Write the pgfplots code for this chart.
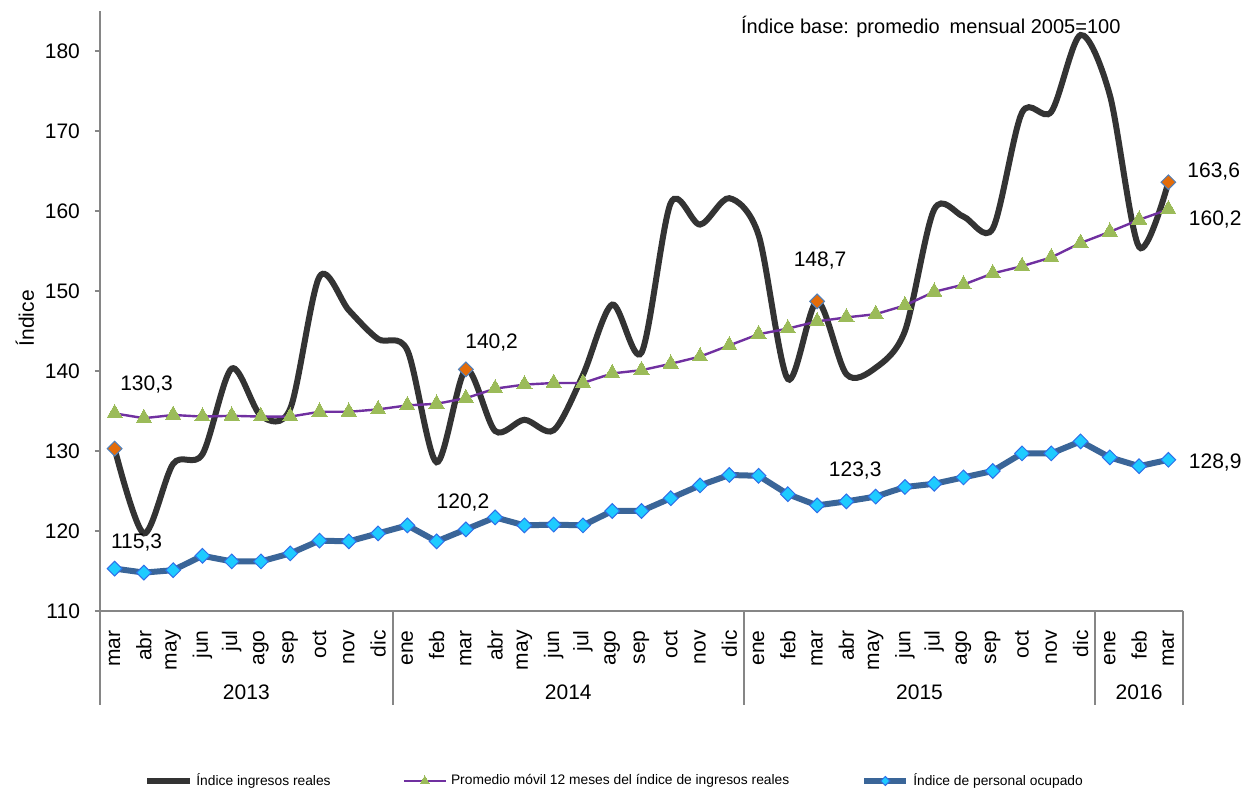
\documentclass[border=0pt]{standalone}
\usepackage{fontspec}
\setmainfont{Liberation Sans}
\usepackage{pgfplots}
\pgfplotsset{compat=1.18}
\definecolor{ingcol}{HTML}{333333}
\definecolor{promcol}{HTML}{7030A0}
\definecolor{tricol}{HTML}{9BBB59}
\definecolor{percol}{HTML}{3A6598}
\definecolor{diacol}{HTML}{1ECBFF}
\definecolor{diaedge}{HTML}{2F6FE8}
\definecolor{oredge}{HTML}{4F81BD}
\definecolor{orcol}{HTML}{E36C0A}
\definecolor{axgray}{HTML}{868686}
\newcommand{\lbl}{\fontsize{10.5}{12}\selectfont}

\pgfplotstableread{
x y
0 130.3
1 119.7
2 128.4
3 129.6
4 140.3
5 134.4
6 135.3
7 151.8
8 147.6
9 144.0
10 142.6
11 128.6
12 140.2
13 132.5
14 133.9
15 132.6
16 139.5
17 148.3
18 142.3
19 161.0
20 158.3
21 161.6
22 157.0
23 139.0
24 148.7
25 139.6
26 140.4
27 145.0
28 160.2
29 159.3
30 157.8
31 172.3
32 172.4
33 182.0
34 174.5
35 155.5
36 163.6
}\ingresos

\pgfplotstableread{
x y
0 134.7
1 134.1
2 134.5
3 134.3
4 134.4
5 134.3
6 134.3
7 134.9
8 134.9
9 135.2
10 135.7
11 135.9
12 136.6
13 137.8
14 138.3
15 138.5
16 138.5
17 139.7
18 140.1
19 140.9
20 141.8
21 143.2
22 144.6
23 145.3
24 146.2
25 146.7
26 147.1
27 148.2
28 149.9
29 150.8
30 152.2
31 153.1
32 154.2
33 156.0
34 157.4
35 158.9
36 160.2
}\promedio

\pgfplotstableread{
x y
0 115.3
1 114.8
2 115.1
3 116.9
4 116.2
5 116.2
6 117.2
7 118.8
8 118.7
9 119.7
10 120.7
11 118.7
12 120.2
13 121.7
14 120.7
15 120.8
16 120.7
17 122.5
18 122.5
19 124.1
20 125.7
21 127.0
22 126.9
23 124.6
24 123.2
25 123.7
26 124.3
27 125.5
28 125.9
29 126.7
30 127.5
31 129.7
32 129.7
33 131.2
34 129.2
35 128.1
36 128.9
}\personal

\begin{document}
\begin{tikzpicture}
\useasboundingbox (-50pt,-89.5pt) rectangle (573.5pt,305.5pt);
\begin{axis}[
  at={(0,0)}, anchor=south west,
  scale only axis, width=541.5pt, height=300pt,
  xmin=-0.5, xmax=36.5, ymin=110, ymax=185,
  axis x line*=bottom, axis y line*=left,
  axis line style={draw=axgray, line width=0.8pt, -},
  ytick={110,120,...,180},
  xtick={0,...,36},
  xticklabels={mar,abr,may,jun,jul,ago,sep,oct,nov,dic,ene,feb,mar,abr,may,jun,jul,ago,sep,oct,nov,dic,ene,feb,mar,abr,may,jun,jul,ago,sep,oct,nov,dic,ene,feb,mar},
  x tick style={draw=none},
  y tick style={draw=axgray, line width=0.8pt},
  tick align=outside, major tick length=2.5pt,
  xticklabel style={rotate=90, anchor=east, font=\lbl, inner xsep=7pt, inner ysep=0pt},
  yticklabel style={font=\lbl, xshift=-4pt},
  /pgf/number format/assume math mode=true,
  every axis y label/.style={at={(axis description cs:-0.0693,0.488)}, rotate=90, anchor=center, font=\lbl},
  ylabel={Índice},
  clip=false,
  legend columns=3,
  legend cell align=left,
  legend style={at={(0,0)}, anchor=west, xshift=22pt, yshift=-85pt, draw=none, fill=none,
    font=\fontsize{6.9}{8}\selectfont, inner sep=0pt,
    /tikz/every even column/.append style={column sep=34pt}},
  legend image code/.code={\draw[mark repeat=2,mark phase=2,#1] plot coordinates {(0pt,0pt) (10.5pt,0pt) (21pt,0pt)};},
]
\addplot[color=ingcol, line width=3pt, smooth, tension=0.5] table[x=x,y=y] {\ingresos};
\addlegendentry{Índice ingresos reales}
\addplot[only marks, mark=square*, mark size=2.6pt, mark options={rotate=45, fill=orcol, draw=oredge, line width=0.5pt}, forget plot]
  coordinates {(0,130.3) (12,140.2) (24,148.7) (36,163.6)};
\addplot[color=promcol, line width=1.2pt, mark=triangle*, mark size=4.4pt,
  mark options={fill=tricol, draw=tricol, line width=0pt},
  legend image post style={mark size=2.6pt}] table[x=x,y=y] {\promedio};
\addlegendentry{Promedio móvil 12 meses del índice de ingresos reales}
\addplot[color=percol, line width=3pt, mark=square*, mark size=2.6pt,
  mark options={rotate=45, fill=diacol, draw=diaedge, line width=0.5pt},
  legend image post style={mark size=1.6pt}] table[x=x,y=y] {\personal};
\addlegendentry{Índice de personal ocupado}

\draw[axgray, line width=0.8pt] (axis cs:-0.5,110) -- ++(0pt,-47pt);
\draw[axgray, line width=0.8pt] (axis cs:9.5,110) -- ++(0pt,-47pt);
\draw[axgray, line width=0.8pt] (axis cs:21.5,110) -- ++(0pt,-47pt);
\draw[axgray, line width=0.8pt] (axis cs:33.5,110) -- ++(0pt,-47pt);
\draw[axgray, line width=0.8pt] (axis cs:36.5,110) -- ++(0pt,-47pt);
\node[font=\lbl] at (axis cs:4.5,110) [yshift=-40.5pt] {2013};
\node[font=\lbl] at (axis cs:15.5,110) [yshift=-40.5pt] {2014};
\node[font=\lbl] at (axis cs:27.5,110) [yshift=-40.5pt] {2015};
\node[font=\lbl] at (axis cs:35,110) [yshift=-40.5pt] {2016};

\node[font=\lbl] at (axis cs:1.09,138.25) {130,3};
\node[font=\lbl] at (axis cs:0.75,118.5) {115,3};
\node[font=\lbl] at (axis cs:12.88,143.6) {140,2};
\node[font=\lbl] at (axis cs:11.9,123.6) {120,2};
\node[font=\lbl] at (axis cs:24.1,153.8) {148,7};
\node[font=\lbl] at (axis cs:25.3,127.6) {123,3};
\node[font=\lbl] at (axis cs:37.55,164.9) {163,6};
\node[font=\lbl] at (axis cs:37.6,158.9) {160,2};
\node[font=\lbl] at (axis cs:37.6,128.6) {128,9};

\node[font=\fontsize{10}{12}\selectfont, anchor=west, inner sep=0pt] at (axis cs:21.39,183) {Índice base: promedio\hspace{0.5em}mensual 2005=100};
\end{axis}
\end{tikzpicture}
\end{document}
